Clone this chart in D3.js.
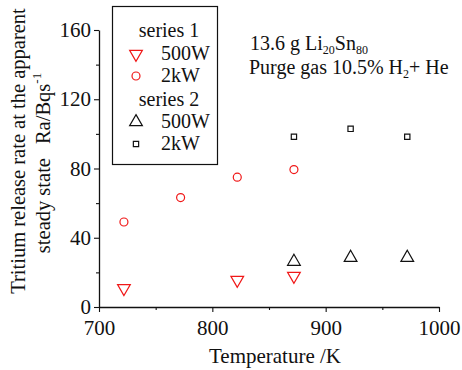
<!DOCTYPE html>
<html>
<head>
<meta charset="utf-8">
<script src="https://cdn.jsdelivr.net/npm/d3@7"></script>
<style>
  body { margin: 0; background: #fff; }
  svg text { font-family: "Liberation Serif", "Times New Roman", serif; fill: #111; }
</style>
</head>
<body>
<div id="chart"></div>
<script>
// temperatures (K) and release rates (Bq/s)
const s1LowT = [722, 822, 872];
const s1LowV = [10.8, 15.6, 17.9];
const s1HighT = [722, 772, 822, 872];
const s1HighV = [49.1, 63.2, 75, 79.4];
const s2LowT = [872, 922, 972];
const s2LowV = [26.2, 28.5, 28.5];
const s2HighT = [872, 922, 972];
const s2HighV = [98.3, 102.9, 98.3];
const xTicks = [700, 800, 900, 1000];
const yTicks = [0, 40, 80, 120, 160];

const width = 462, height = 370;
const margin = { top: 30, right: 23, bottom: 63, left: 99 };
const w = width - margin.left - margin.right;
const h = height - margin.top - margin.bottom;

const svg = d3.select('#chart').append('svg')
  .attr('width', width)
  .attr('height', height);

const x = d3.scaleLinear().domain([700, 1000]).range([0, w]);
const y = d3.scaleLinear().domain([0, 160]).range([h, 0]);

const chart = svg.append('g')
  .attr('transform', `translate(${margin.left}, ${margin.top})`);

// axes
chart.append('g')
  .attr('transform', `translate(0, ${h})`)
  .call(d3.axisBottom(x).tickValues(xTicks).tickFormat(d3.format('d')).tickSize(5).tickPadding(8).tickSizeOuter(0));
chart.append('g')
  .attr('transform', `translate(0, ${h})`)
  .call(d3.axisBottom(x).tickValues([750, 850, 950]).tickSize(3).tickFormat('').tickSizeOuter(0))
  .call(g => g.select('.domain').remove());
chart.append('g')
  .call(d3.axisLeft(y).tickValues(yTicks).tickSize(5).tickPadding(3).tickSizeOuter(0));
chart.append('g')
  .call(d3.axisLeft(y).tickValues([20, 60, 100, 140]).tickSize(3).tickFormat('').tickSizeOuter(0))
  .call(g => g.select('.domain').remove());

chart.selectAll('.domain').attr('stroke', '#111').attr('stroke-width', 1.3);
chart.selectAll('.tick line').attr('stroke', '#111').attr('stroke-width', 1.1);
chart.selectAll('.tick text').style('font-size', '21px').attr('fill', '#111');

// axis titles
svg.append('text')
  .attr('x', 275)
  .attr('y', 363)
  .attr('text-anchor', 'middle')
  .style('font-size', '21px')
  .text('Temperature /K');

svg.append('text')
  .attr('transform', 'translate(25, 151) rotate(-90)')
  .attr('text-anchor', 'middle')
  .style('font-size', '20.5px')
  .text('Tritium release rate at the apparent');
const l2 = svg.append('text')
  .attr('transform', 'translate(50, 163) rotate(-90)')
  .attr('text-anchor', 'middle')
  .style('font-size', '20.5px');
l2.append('tspan').text('steady state');
l2.append('tspan').attr('dx', 14).text('Ra/Bqs');
l2.append('tspan').attr('dy', -9).style('font-size', '13px').text('-1');

// markers
const red = '#f01818', blk = '#111';
const tri = d3.symbol().type(d3.symbolTriangle).size(70);
const circ = d3.symbol().type(d3.symbolCircle).size(50);
const sq = d3.symbol().type(d3.symbolSquare).size(28);

function drawSeries(xs, vs, sym, color, flip) {
  chart.selectAll(null)
    .data(xs.map((t, i) => [t, vs[i]]))
    .enter()
    .append('path')
    .attr('d', sym)
    .attr('transform', d => `translate(${x(d[0])}, ${y(d[1])})` + (flip ? ' rotate(180)' : ''))
    .attr('fill', 'none')
    .attr('stroke', color)
    .attr('stroke-width', 1.2);
}
drawSeries(s1LowT, s1LowV, tri, red, true);
drawSeries(s1HighT, s1HighV, circ, red, false);
drawSeries(s2LowT, s2LowV, tri, blk, false);
drawSeries(s2HighT, s2HighV, sq, blk, false);

// legend
const lg = svg.append('g');
lg.append('rect')
  .attr('x', 112.5).attr('y', 6.5).attr('width', 105).attr('height', 158)
  .attr('fill', '#fff').attr('stroke', '#111').attr('stroke-width', 1.2);
const legendRows = [
  { label: 'series 1', y: 37 },
  { label: '500W', y: 60, sym: tri, color: red, flip: true },
  { label: '2kW', y: 82, sym: circ, color: red },
  { label: 'series 2', y: 106 },
  { label: '500W', y: 128, sym: tri, color: blk },
  { label: '2kW', y: 150, sym: sq, color: blk }
];
legendRows.forEach(r => {
  if (!r.sym) {
    lg.append('text').attr('x', 169).attr('y', r.y)
      .attr('text-anchor', 'middle').style('font-size', '20px').text(r.label);
  } else {
    lg.append('path').attr('d', r.sym)
      .attr('transform', `translate(136, ${r.y - 6})` + (r.flip ? ' rotate(180)' : ''))
      .attr('fill', 'none').attr('stroke', r.color).attr('stroke-width', 1.2);
    lg.append('text').attr('x', 161).attr('y', r.y)
      .style('font-size', '20px').text(r.label);
  }
});

// annotation
const a1 = svg.append('text').attr('x', 250).attr('y', 50).style('font-size', '20px');
a1.append('tspan').text('13.6 g Li');
a1.append('tspan').attr('dy', 4).style('font-size', '12px').text('20');
a1.append('tspan').attr('dy', -4).text('Sn');
a1.append('tspan').attr('dy', 4).style('font-size', '12px').text('80');
const a2 = svg.append('text').attr('x', 249).attr('y', 74).style('font-size', '20px');
a2.append('tspan').text('Purge gas 10.5% H');
a2.append('tspan').attr('dy', 4).style('font-size', '12px').text('2');
a2.append('tspan').attr('dy', -4).text('+ He');
</script>
</body>
</html>
